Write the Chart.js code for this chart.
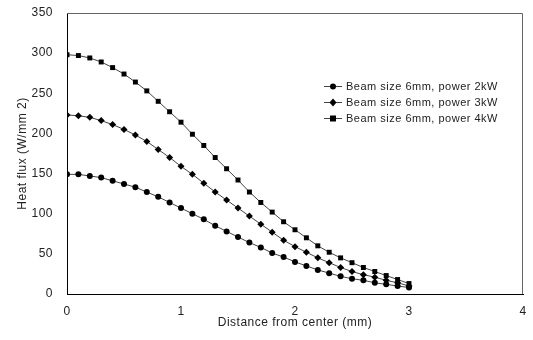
<!DOCTYPE html>
<html>
<head>
<meta charset="utf-8">
<script src="https://cdn.jsdelivr.net/npm/chart.js@4/dist/chart.umd.min.js"></script>
<style>
  html, body { margin: 0; padding: 0; background: #fff; }
  #wrap { width: 533px; height: 340px; }
</style>
</head>
<body>
<div id="wrap"><canvas id="fluxChart" width="533" height="340"></canvas></div>
<script>
// distance from beam centre (mm)
var distance = [0, 0.1, 0.2, 0.3, 0.4, 0.5, 0.6, 0.7, 0.8, 0.9, 1.0,
                1.1, 1.2, 1.3, 1.4, 1.5, 1.6, 1.7, 1.8, 1.9, 2.0,
                2.1, 2.2, 2.3, 2.4, 2.5, 2.6, 2.7, 2.8, 2.9, 3.0];

// heat flux (W/mm2)
var power2kW = [149, 149, 147, 145, 141, 137, 133, 127, 121, 114, 107,
                100, 93, 85, 78, 71, 64, 58, 51, 46, 40,
                35, 30, 26, 22, 19, 17, 14, 12, 10, 8];
var power3kW = [223, 222, 220, 216, 211, 205, 198, 190, 180, 170, 159,
                149, 138, 127, 117, 107, 97, 87, 77, 67, 59,
                52, 45, 39, 33, 28, 24, 21, 17, 14, 10];
var power4kW = [298, 297, 294, 289, 282, 274, 264, 253, 240, 227, 214,
                199, 185, 170, 156, 142, 127, 114, 102, 90, 80,
                70, 60, 52, 45, 39, 33, 28, 23, 18, 13];

var seriesLabels = ['Beam size 6mm, power 2kW', 'Beam size 6mm, power 3kW', 'Beam size 6mm, power 4kW'];
var xTicks = [0, 1, 2, 3, 4];
var yTicks = [0, 50, 100, 150, 200, 250, 300, 350];

function toPoints(values) {
    return values.map(function (v, i) { return { x: distance[i], y: v }; });
}

function makeSet(label, values, style, radius) {
    return {
        label: label,
        data: toPoints(values),
        borderColor: '#444',
        borderWidth: 1,
        backgroundColor: '#000',
        pointBackgroundColor: '#000',
        pointBorderColor: '#000',
        pointBorderWidth: 0,
        pointStyle: style,
        pointRadius: radius,
        tension: 0
    };
}

// legend drawn inside the plot, plus the box border
var frameAndLegend = {
    id: 'frameAndLegend',
    beforeDraw: function (chart) {
        chart.ctx.letterSpacing = '0.5px';
    },
    afterDraw: function (chart) {
        var ctx = chart.ctx;
        var a = chart.chartArea;
        ctx.save();
        ctx.strokeStyle = '#666';
        ctx.lineWidth = 1;
        ctx.beginPath();
        ctx.moveTo(a.left, a.top + 0.5);
        ctx.lineTo(a.right - 0.5, a.top + 0.5);
        ctx.lineTo(a.right - 0.5, a.bottom);
        ctx.stroke();

        var rows = [86, 102, 118];
        ctx.font = '11px "Liberation Sans", Arial, sans-serif';
        ctx.letterSpacing = '0.5px';
        ctx.textBaseline = 'middle';
        chart.data.datasets.forEach(function (ds, i) {
            var y = rows[i];
            ctx.strokeStyle = '#444';
            ctx.beginPath();
            ctx.moveTo(324, y + 0.5);
            ctx.lineTo(342, y + 0.5);
            ctx.stroke();
            ctx.fillStyle = '#000';
            ctx.beginPath();
            if (ds.pointStyle === 'circle') {
                ctx.arc(333, y + 0.5, 3, 0, Math.PI * 2);
            } else if (ds.pointStyle === 'rectRot') {
                ctx.moveTo(333, y - 3.5);
                ctx.lineTo(336.5, y + 0.5);
                ctx.lineTo(333, y + 4.5);
                ctx.lineTo(329.5, y + 0.5);
                ctx.closePath();
            } else {
                ctx.rect(330, y - 2.5, 6, 6);
            }
            ctx.fill();
            ctx.fillStyle = '#222';
            ctx.fillText(ds.label, 346, y + 1);
        });
        ctx.restore();
    }
};

document.addEventListener('DOMContentLoaded', function () {
    var fluxChartCanvas = document.getElementById('fluxChart').getContext('2d');
    var textFont = { family: '"Liberation Sans", Arial, sans-serif', size: 12 };

    var fluxChart = new Chart(fluxChartCanvas, {
        type: 'line',
        data: {
            datasets: [
                makeSet(seriesLabels[0], power2kW, 'circle', 3),
                makeSet(seriesLabels[1], power3kW, 'rectRot', 3.5),
                makeSet(seriesLabels[2], power4kW, 'rect', 3.5)
            ]
        },
        plugins: [frameAndLegend],
        options: {
            responsive: false,
            animation: false,
            layout: { padding: { top: 13, right: 10, left: 0, bottom: 0 } },
            plugins: {
                legend: { display: false },
                tooltip: { enabled: false }
            },
            scales: {
                x: {
                    type: 'linear',
                    min: 0,
                    max: 4,
                    afterBuildTicks: function (scale) {
                        scale.ticks = xTicks.map(function (v) { return { value: v }; });
                    },
                    afterFit: function (scale) {
                        scale.height = 46;
                        scale.paddingLeft = 0;
                        scale.paddingRight = 0;
                    },
                    grid: { display: false, drawTicks: false },
                    border: { display: true, color: '#000', width: 1 },
                    ticks: { color: '#222', font: textFont, padding: 10, maxRotation: 0 },
                    title: {
                        display: true,
                        text: 'Distance from center (mm)',
                        color: '#222',
                        font: textFont,
                        padding: { top: 0, bottom: 10 }
                    }
                },
                y: {
                    min: 0,
                    max: 350,
                    afterBuildTicks: function (scale) {
                        scale.ticks = yTicks.map(function (v) { return { value: v }; });
                    },
                    afterFit: function (scale) {
                        scale.width = 67;
                        scale.paddingTop = 0;
                        scale.paddingBottom = 0;
                    },
                    grid: { display: false, drawTicks: false },
                    border: { display: true, color: '#000', width: 1 },
                    ticks: { color: '#222', font: textFont, padding: 14 },
                    title: {
                        display: true,
                        text: 'Heat flux (W/mm 2)',
                        color: '#222',
                        font: textFont,
                        padding: { top: 15, bottom: 0 }
                    }
                }
            }
        }
    });
});
</script>
</body>
</html>
